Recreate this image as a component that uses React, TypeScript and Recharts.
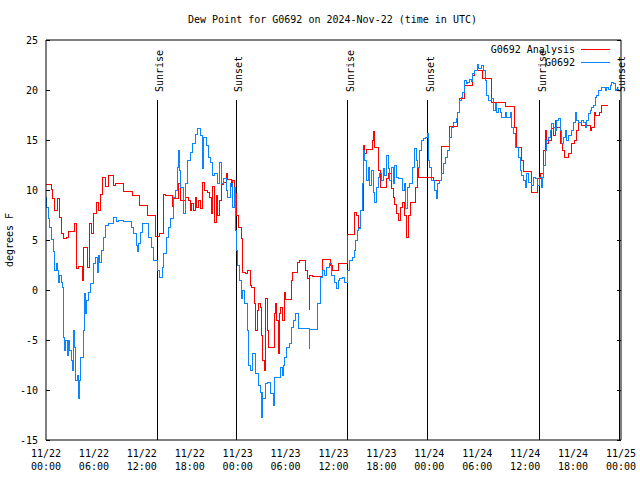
import { Legend, Line, LineChart, ReferenceLine, XAxis, YAxis } from 'recharts';

// hours since 11/22 00:00 UTC, dew point in F
const ANALYSIS: [number, number][] = [
  [0, 10.6], [0.67, 10.1], [0.875, 9.2], [1.08, 8.0], [1.42, 9.2], [1.71, 7.3], [1.92, 5.7], [2.17, 5.2],
  [2.54, 5.3], [2.875, 5.9], [3.58, 6.7], [3.79, 2.2], [4.04, 2.4], [4.54, 1.0], [4.75, 4.3], [5.17, 2.3],
  [5.46, 6.7], [5.71, 5.7], [6.0, 7.7], [6.29, 8.8], [6.54, 8.0], [6.83, 9.6], [7.08, 11.3], [7.5, 10.4],
  [7.79, 11.5], [8.5, 10.5], [8.71, 10.7], [9.75, 9.9], [10.8, 9.5], [11.75, 8.5], [12.67, 7.5], [13.75, 5.4],
  [14.25, 5.7], [14.67, 9.6], [14.96, 9.5], [15.8, 8.4], [16.0, 9.2], [16.6, 10.7], [16.8, 9.0], [17.5, 9.3],
  [17.9, 9.0], [18.08, 8.0], [18.25, 8.7], [18.5, 8.0], [18.67, 9.3], [18.875, 8.3], [19.08, 9.0], [19.33, 8.2],
  [19.625, 10.8], [19.83, 10.0], [20.25, 9.8], [20.5, 9.3], [20.67, 7.7], [20.83, 10.4], [21.08, 6.8], [21.33, 9.5],
  [21.5, 7.5], [21.71, 9.0], [21.92, 10.6], [22.25, 10.8], [22.54, 11.7], [22.75, 11.1], [23.17, 10.4], [23.375, 11.0],
  [23.58, 9.7], [23.83, 7.5], [24.08, 6.3], [24.42, 5.2], [24.625, 1.8], [24.92, 1.7], [25.25, 2.0], [25.58, 0.5],
  [25.75, 0.3], [26.08, -1.3], [26.29, -4.0], [26.5, -2.0], [26.67, -1.3], [26.83, -1.7], [27.0, -4.5], [27.17, -7.0],
  [27.33, -8.0], [27.54, -0.8], [27.75, -4.0], [27.92, -5.7], [28.58, -2.3], [28.75, -1.3], [28.92, -3.0], [29.08, -6.3],
  [29.25, -2.3], [29.42, -1.7], [29.625, -3.0], [29.83, -0.2], [30.04, -0.9], [30.75, 1.0], [30.875, 1.8], [31.5, 2.8],
  [31.71, 3.0], [32.54, 2.0], [32.75, 1.2], [32.95, -1.9], [33.05, 1.5], [33.375, 1.4], [34.625, 3.1], [35.67, 2.5],
  [35.875, 2.0], [36.58, 2.7], [37.75, 5.6], [38.58, 7.8], [38.875, 7.5], [39.08, 6.3], [39.42, 8.0], [39.71, 14.5],
  [39.92, 13.7], [40.125, 14.1], [40.83, 15.0], [41.0, 15.9], [41.17, 14.3], [41.67, 12.0], [41.92, 10.3], [42.625, 11.2],
  [42.92, 11.7], [43.25, 10.2], [43.46, 9.3], [43.67, 8.6], [43.875, 7.7], [44.08, 7.0], [44.33, 8.3], [44.58, 8.8],
  [44.83, 7.5], [45.125, 5.3], [45.33, 7.5], [45.58, 8.8], [46.25, 10.3], [46.5, 12.3], [46.67, 11.3], [48.5, 11.0],
  [49.5, 14.4], [50.54, 16.4], [51.58, 17.8], [51.79, 19.2], [52.42, 20.5], [53.46, 21.5], [53.67, 22.0], [54.67, 21.2],
  [55.75, 18.8], [57.5, 18.4], [58.67, 16.3], [58.96, 14.3], [59.58, 13.0], [59.79, 11.9], [60.83, 9.8], [61.58, 11.2],
  [61.875, 11.7], [62.29, 14.0], [62.5, 16.0], [62.71, 14.7], [62.92, 15.0], [63.25, 16.2], [63.54, 15.5], [63.75, 17.0],
  [63.96, 16.3], [64.375, 14.7], [64.67, 14.0], [64.92, 13.3], [65.42, 13.7], [65.83, 14.7], [66.17, 15.0], [66.46, 16.0],
  [66.67, 16.8], [67.0, 16.5], [68.125, 16.0], [68.33, 16.3], [68.67, 17.8], [68.83, 17.5], [69.25, 17.8], [69.5, 18.5],
  [70.42, 18.5],
];

const OBSERVED: [number, number][] = [
  [0, 9.3], [0.08, 8.3], [0.33, 7.2], [0.5, 6.3], [0.67, 5.1], [0.92, 3.9], [1.08, 2.0], [1.33, 2.7],
  [1.45, 2.0], [1.58, 0.8], [1.75, 1.5], [1.9, 0.8], [2.04, 0.3], [2.17, -4.7], [2.33, -6.0], [2.5, -5.0],
  [2.67, -6.5], [2.83, -5.0], [3.0, -6.0], [3.15, -7.0], [3.29, -8.0], [3.5, -4.0], [3.6, -5.7], [3.75, -9.0],
  [4.0, -8.5], [4.1, -10.8], [4.2, -9.0], [4.33, -6.7], [4.67, -4.0], [4.83, -0.3], [4.95, -2.3], [5.08, -1.0],
  [5.33, -0.2], [5.58, 0.7], [5.92, 2.7], [6.21, 3.3], [6.42, 1.8], [6.55, 3.5], [6.67, 2.8], [6.92, 4.0],
  [7.17, 5.3], [7.5, 6.5], [7.875, 6.7], [8.5, 7.3], [8.8, 6.9], [9.125, 7.0], [9.75, 6.9], [10.67, 6.3],
  [11.0, 5.7], [11.33, 4.5], [11.5, 3.9], [11.6, 4.7], [11.83, 5.8], [12.08, 6.7], [12.875, 5.3], [13.17, 4.3],
  [13.5, 3.0], [13.92, 2.0], [14.25, 1.3], [14.54, 2.3], [14.75, 3.7], [15.08, 5.3], [15.375, 6.3], [15.58, 7.2],
  [15.92, 9.3], [16.2, 10.0], [16.5, 12.3], [16.6, 14.0], [16.67, 12.0], [16.83, 10.3], [17.25, 7.7], [17.46, 10.7],
  [17.75, 13.0], [18.08, 13.8], [18.375, 14.7], [18.67, 15.6], [19.0, 16.2], [19.33, 15.5], [19.625, 12.2], [19.75, 15.3],
  [20.04, 14.5], [20.33, 13.3], [20.58, 12.8], [20.875, 11.5], [21.08, 11.7], [21.42, 10.7], [21.71, 12.8], [21.92, 10.7],
  [22.25, 11.2], [22.54, 10.0], [22.75, 9.3], [23.08, 10.7], [23.375, 8.3], [23.58, 10.3], [23.7, 7.3], [23.79, 6.0],
  [23.9, 4.0], [24.0, 2.5], [24.21, 1.0], [24.42, -0.8], [24.625, 0.0], [24.83, -1.3], [25.17, -4.0], [25.33, -7.5],
  [25.58, -8.0], [25.875, -6.3], [26.29, -8.3], [26.58, -9.5], [26.83, -10.2], [27.0, -12.7], [27.05, -10.2], [27.125, -10.8],
  [27.54, -9.3], [27.75, -9.2], [28.17, -10.3], [28.5, -11.5], [28.67, -8.7], [29.33, -7.7], [29.625, -8.5], [29.75, -7.5],
  [29.92, -6.7], [30.17, -5.7], [30.46, -5.3], [30.75, -3.7], [31.0, -3.0], [31.29, -2.3], [31.58, -3.8], [32.96, -5.8],
  [33.05, -3.9], [34.0, -1.3], [34.33, 1.3], [34.625, 2.0], [34.92, 1.5], [35.17, 2.3], [35.46, 2.7], [35.75, 1.5],
  [36.08, 0.8], [36.375, 0.2], [36.6, 1.0], [36.79, 1.2], [37.08, 1.3], [37.42, 0.8], [37.75, 2.0], [38.04, 3.0],
  [38.33, 3.3], [38.58, 4.0], [38.75, 5.0], [39.0, 6.0], [39.17, 6.2], [39.42, 8.0], [39.58, 10.7], [39.75, 14.0],
  [39.92, 13.0], [40.125, 11.0], [40.33, 12.3], [40.54, 10.5], [40.75, 12.0], [40.96, 9.8], [41.17, 8.8], [41.375, 10.3],
  [41.58, 11.3], [41.79, 11.7], [42.0, 11.0], [42.21, 12.2], [42.42, 11.5], [42.625, 13.5], [42.83, 12.2], [43.04, 11.0],
  [43.25, 12.3], [43.46, 10.7], [43.67, 12.5], [43.875, 11.3], [44.08, 11.2], [44.58, 10.0], [44.83, 10.7], [45.0, 8.2],
  [45.25, 10.3], [45.54, 10.7], [45.83, 12.3], [46.08, 14.2], [46.375, 13.0], [46.58, 12.3], [46.79, 14.0], [47.0, 15.0],
  [47.21, 15.2], [47.5, 15.3], [47.75, 15.7], [47.92, 13.0], [48.08, 12.3], [48.33, 11.0], [48.67, 10.0], [48.875, 9.2],
  [49.08, 10.7], [49.33, 11.0], [49.58, 11.7], [49.83, 12.7], [50.08, 13.3], [50.33, 14.0], [50.54, 15.3], [50.75, 16.3],
  [51.08, 16.8], [51.375, 17.2], [51.58, 17.8], [51.79, 19.0], [52.0, 19.3], [52.21, 19.8], [52.42, 21.0], [52.625, 20.7],
  [52.83, 20.8], [53.04, 21.1], [53.25, 20.9], [53.46, 21.7], [53.67, 22.0], [54.0, 22.6], [54.17, 22.2], [54.58, 22.5],
  [54.79, 22.0], [55.0, 21.0], [55.21, 19.5], [55.42, 19.0], [55.83, 19.2], [56.04, 18.0], [56.25, 18.7], [56.46, 17.8],
  [56.67, 18.2], [56.875, 17.8], [57.08, 17.3], [57.5, 17.8], [57.71, 17.3], [58.125, 17.8], [58.33, 16.3], [58.54, 15.7],
  [58.75, 14.3], [59.17, 13.3], [59.375, 12.0], [59.58, 11.5], [59.79, 11.0], [60.0, 10.3], [60.21, 11.7], [60.42, 10.8],
  [60.83, 10.5], [61.04, 11.3], [61.25, 11.2], [61.58, 10.5], [61.75, 11.3], [62.08, 10.3], [62.2, 11.3], [62.29, 12.5],
  [62.5, 14.0], [62.71, 15.0], [62.92, 15.3], [63.125, 16.0], [63.33, 16.7], [63.54, 16.3], [63.75, 16.0], [63.96, 17.0],
  [64.17, 17.2], [64.375, 16.0], [64.58, 14.7], [64.79, 15.3], [65.0, 16.0], [65.21, 15.0], [65.42, 15.5], [65.83, 16.0],
  [66.04, 16.8], [66.25, 17.8], [66.46, 17.0], [66.67, 16.8], [67.08, 17.0], [67.29, 16.8], [67.5, 16.3], [67.71, 17.0],
  [67.92, 17.7], [68.125, 18.0], [68.33, 18.3], [68.54, 18.5], [68.75, 19.3], [68.96, 19.5], [69.17, 20.0], [69.5, 20.3],
  [70.0, 20.0], [70.21, 20.3], [70.42, 20.1], [70.625, 20.5], [70.83, 20.8], [71.04, 20.7], [71.25, 20.0], [71.46, 20.1],
  [71.75, 20.1],
];

const SERIES_NAMES = ['G0692 Analysis', 'G0692'];
const SUNRISE = [13.9, 37.8, 61.8];
const SUNSET = [23.8, 47.8, 71.8];

const X_TICKS = [0, 6, 12, 18, 24, 30, 36, 42, 48, 54, 60, 66, 72];
const X_ALL_TICKS = [
  0, 2, 4, 6, 8, 10, 12, 14, 16, 18, 20, 22, 24, 26, 28, 30, 32, 34, 36,
  38, 40, 42, 44, 46, 48, 50, 52, 54, 56, 58, 60, 62, 64, 66, 68, 70, 72,
];
const Y_TICKS = [-15, -10, -5, 0, 5, 10, 15, 20, 25];
const DAY_LABELS = ['11/22', '11/23', '11/24', '11/25'];
const HOUR_LABELS = ['00:00', '06:00', '12:00', '18:00'];

const FONT = '"DejaVu Sans Mono", monospace';
const RED = '#ff0000';
const BLUE = '#0a84ff';

const toRows = (pts: [number, number][]) => pts.map(([t, v]) => ({ t, v }));

function XTick({ x, y, payload }: any) {
  const v = payload.value as number;
  return (
    <g fontFamily={FONT} fontSize={10} fill="#000">
      <text x={x} y={y + 17} textAnchor="middle">{DAY_LABELS[Math.floor(v / 24)]}</text>
      <text x={x} y={y + 30} textAnchor="middle">{HOUR_LABELS[(v % 24) / 6]}</text>
    </g>
  );
}

function YTick({ x, y, payload }: any) {
  return (
    <text x={x} y={y + 3.5} textAnchor="end" fontFamily={FONT} fontSize={10} fill="#000">
      {payload.value}
    </text>
  );
}

// inward tick marks on the plot border, gnuplot style (major 4px, minor 2px)
function BorderTick({ x, y, payload, side }: any) {
  const v = payload.value as number;
  const len = side === 'top' || side === 'bottom' ? (v % 6 === 0 ? 4 : 2) : 4;
  const d = { top: [0, len], bottom: [0, -len], left: [len, 0], right: [-len, 0] }[side as string] as number[];
  return <line x1={x} y1={y} x2={x + d[0]} y2={y + d[1]} stroke="#000" strokeWidth={1} shapeRendering="crispEdges" />;
}

function EventLabel({ viewBox, text }: any) {
  const x = viewBox.x + 6;
  const y = viewBox.y - 8;
  return (
    <text x={x} y={y} transform={`rotate(-90 ${x} ${y})`} fontFamily={FONT} fontSize={10} fill="#000">
      {text}
    </text>
  );
}

function LegendBox({ payload }: any) {
  const items = [...(payload || [])].sort(
    (a: any, b: any) => SERIES_NAMES.indexOf(a.value) - SERIES_NAMES.indexOf(b.value),
  );
  return (
    <div style={{ fontFamily: FONT, fontSize: 10, color: '#000' }}>
      {items.map((item: any) => (
        <div key={item.value} style={{ display: 'flex', justifyContent: 'flex-end', alignItems: 'center', height: 13 }}>
          <span style={{ whiteSpace: 'nowrap' }}>{item.value}</span>
          <svg width={37} height={13}>
            <line x1={6} x2={35} y1={6.5} y2={6.5} stroke={item.color} strokeWidth={1} shapeRendering="crispEdges" />
          </svg>
        </div>
      ))}
    </div>
  );
}

const borderAxis = {
  type: 'number' as const,
  allowDataOverflow: true,
  stroke: '#000',
  mirror: true,
  tickLine: false,
  tickSize: 0,
  tickMargin: 0,
};

export default function App() {
  return (
    <div style={{ position: 'absolute', left: 0, top: 0, width: 640, height: 480, background: '#fff' }}>
      <div
        style={{
          position: 'absolute', left: 0, top: 13, width: 665, textAlign: 'center',
          fontFamily: FONT, fontSize: 10, lineHeight: '14px', color: '#000', whiteSpace: 'nowrap',
        }}
      >
        Dew Point for G0692 on 2024-Nov-22 (time in UTC)
      </div>
      <div
        style={{
          position: 'absolute', left: -20, top: 234, width: 60, height: 12, lineHeight: '12px',
          textAlign: 'center', transform: 'rotate(-90deg)', fontFamily: FONT, fontSize: 10, color: '#000',
          whiteSpace: 'nowrap',
        }}
      >
        degrees F
      </div>
      <LineChart width={640} height={480} margin={{ top: 40, right: 19, bottom: 0, left: 0 }}>
        <XAxis
          xAxisId="x" dataKey="t" type="number" domain={[0, 72]} ticks={X_TICKS} allowDataOverflow
          height={40} tickSize={0} tickMargin={0} tickLine={false} stroke="#000" tick={<XTick />}
        />
        <YAxis
          yAxisId="y" type="number" domain={[-15, 25]} ticks={Y_TICKS} allowDataOverflow
          width={46} tickSize={0} tickMargin={8} tickLine={false} stroke="#000" tick={<YTick />}
        />
        <XAxis {...borderAxis} xAxisId="bt" orientation="bottom" height={1} domain={[0, 72]} ticks={X_ALL_TICKS}
          axisLine={false} tick={<BorderTick side="bottom" />} />
        <XAxis {...borderAxis} xAxisId="tp" orientation="top" height={1} domain={[0, 72]} ticks={X_ALL_TICKS}
          tick={<BorderTick side="top" />} />
        <YAxis {...borderAxis} yAxisId="lf" orientation="left" width={1} domain={[-15, 25]} ticks={Y_TICKS}
          axisLine={false} tick={<BorderTick side="left" />} />
        <YAxis {...borderAxis} yAxisId="rt" orientation="right" width={1} domain={[-15, 25]} ticks={Y_TICKS}
          tick={<BorderTick side="right" />} />
        {SUNRISE.map((t) => (
          <ReferenceLine
            key={`rise-${t}`} xAxisId="x" yAxisId="y" segment={[{ x: t, y: -15 }, { x: t, y: 19 }]}
            stroke="#000" strokeWidth={1} shapeRendering="crispEdges" label={<EventLabel text="Sunrise" />}
          />
        ))}
        {SUNSET.map((t) => (
          <ReferenceLine
            key={`set-${t}`} xAxisId="x" yAxisId="y" segment={[{ x: t, y: -15 }, { x: t, y: 19 }]}
            stroke="#000" strokeWidth={1} shapeRendering="crispEdges" label={<EventLabel text="Sunset" />}
          />
        ))}
        <Line
          xAxisId="x" yAxisId="y" data={toRows(ANALYSIS)} dataKey="v" name={SERIES_NAMES[0]} type="stepAfter"
          stroke={RED} strokeWidth={1} dot={false} activeDot={false} isAnimationActive={false}
          shapeRendering="crispEdges"
        />
        <Line
          xAxisId="x" yAxisId="y" data={toRows(OBSERVED)} dataKey="v" name={SERIES_NAMES[1]} type="stepAfter"
          stroke={BLUE} strokeWidth={1} dot={false} activeDot={false} isAnimationActive={false}
          shapeRendering="crispEdges"
        />
        <Legend
          layout="vertical" align="center" verticalAlign="middle" content={<LegendBox />}
          wrapperStyle={{ top: 43, left: 440, width: 172, height: 26 }}
        />
      </LineChart>
    </div>
  );
}
